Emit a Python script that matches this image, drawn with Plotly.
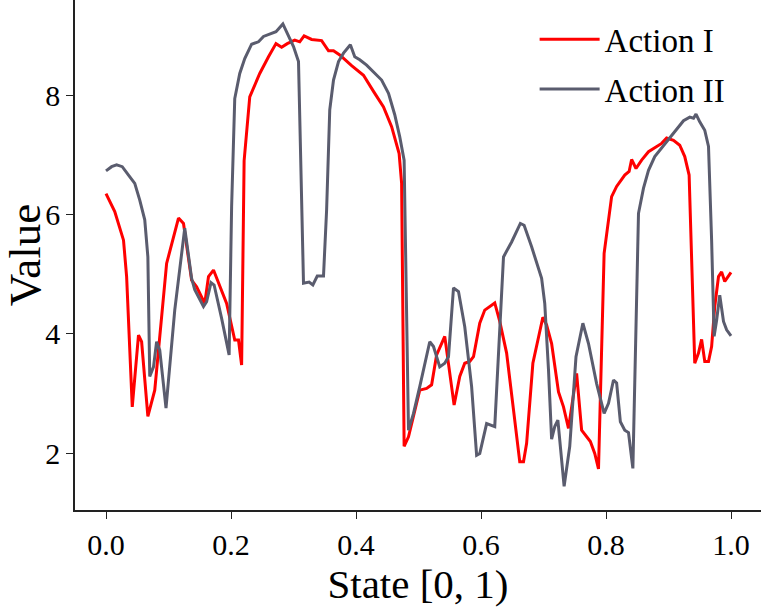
import plotly.graph_objects as go

x_action1 = [0.000, 0.014, 0.028, 0.033, 0.042, 0.052, 0.057, 0.067, 0.078, 0.097,
             0.116, 0.124, 0.137, 0.145, 0.158, 0.164, 0.172, 0.193, 0.206, 0.212,
             0.217, 0.221, 0.230, 0.246, 0.260, 0.272, 0.281, 0.290, 0.302, 0.310,
             0.317, 0.329, 0.345, 0.356, 0.364, 0.374, 0.393, 0.412, 0.428, 0.444,
             0.457, 0.469, 0.473, 0.477, 0.484, 0.502, 0.513, 0.521, 0.529, 0.542,
             0.557, 0.566, 0.574, 0.582, 0.588, 0.598, 0.606, 0.622, 0.630, 0.641,
             0.652, 0.662, 0.668, 0.673, 0.683, 0.692, 0.699, 0.705, 0.713, 0.724,
             0.732, 0.740, 0.753, 0.761, 0.775, 0.782, 0.788, 0.797, 0.809, 0.817,
             0.830, 0.837, 0.841, 0.848, 0.857, 0.868, 0.878, 0.889, 0.897, 0.908,
             0.918, 0.926, 0.933, 0.942, 0.948, 0.953, 0.958, 0.964, 0.969, 0.974,
             0.980, 0.985, 0.990, 1.000]
y_action1 = [6.35, 6.05, 5.57, 4.96, 2.78, 3.98, 3.87, 2.62, 3.06, 5.18,
             5.94, 5.85, 4.90, 4.79, 4.51, 4.96, 5.07, 4.51, 3.90, 3.90,
             3.48, 6.90, 7.97, 8.36, 8.64, 8.86, 8.80, 8.86, 8.92, 8.89,
             8.99, 8.93, 8.91, 8.74, 8.74, 8.67, 8.49, 8.33, 8.06, 7.80,
             7.47, 7.02, 6.52, 2.12, 2.28, 3.06, 3.09, 3.15, 3.65, 3.96,
             2.81, 3.29, 3.51, 3.54, 3.62, 4.18, 4.40, 4.52, 4.21, 3.68,
             2.73, 1.86, 1.86, 2.17, 3.51, 3.96, 4.28, 4.15, 3.84, 3.03,
             2.78, 2.42, 3.34, 2.39, 2.20, 2.00, 1.74, 5.35, 6.30, 6.47,
             6.66, 6.72, 6.92, 6.77, 6.91, 7.05, 7.11, 7.19, 7.28, 7.24,
             7.16, 6.97, 6.66, 3.51, 3.68, 3.91, 3.54, 3.54, 3.79, 4.46,
             4.96, 5.04, 4.88, 5.03]

x_action2 = [0.000, 0.009, 0.017, 0.026, 0.036, 0.046, 0.054, 0.062, 0.067, 0.070,
             0.076, 0.081, 0.086, 0.096, 0.110, 0.126, 0.137, 0.142, 0.156, 0.161,
             0.168, 0.173, 0.185, 0.197, 0.201, 0.206, 0.214, 0.222, 0.233, 0.244,
             0.252, 0.262, 0.272, 0.283, 0.289, 0.300, 0.308, 0.310, 0.313, 0.316,
             0.325, 0.331, 0.338, 0.348, 0.353, 0.358, 0.364, 0.372, 0.380, 0.391,
             0.398, 0.406, 0.417, 0.428, 0.441, 0.452, 0.462, 0.470, 0.477, 0.484,
             0.492, 0.502, 0.510, 0.518, 0.524, 0.534, 0.542, 0.548, 0.556, 0.564,
             0.574, 0.585, 0.593, 0.598, 0.609, 0.622, 0.636, 0.649, 0.663, 0.669,
             0.681, 0.697, 0.702, 0.708, 0.713, 0.718, 0.723, 0.733, 0.742, 0.752,
             0.763, 0.772, 0.785, 0.797, 0.804, 0.812, 0.817, 0.823, 0.830, 0.836,
             0.843, 0.852, 0.860, 0.868, 0.878, 0.889, 0.902, 0.913, 0.924, 0.934,
             0.940, 0.944, 0.950, 0.958, 0.964, 0.969, 0.973, 0.977, 0.982, 0.988,
             0.993, 1.000]
y_action2 = [6.73, 6.80, 6.83, 6.80, 6.66, 6.52, 6.24, 5.91, 5.29, 3.29,
             3.45, 3.87, 3.73, 2.76, 4.40, 5.77, 4.93, 4.74, 4.46, 4.54,
             4.86, 4.82, 4.26, 3.65, 6.13, 7.94, 8.36, 8.61, 8.85, 8.89,
             8.98, 9.02, 9.06, 9.19, 9.06, 8.81, 8.56, 7.75, 6.13, 4.85,
             4.87, 4.82, 4.97, 4.97, 6.08, 7.75, 8.25, 8.56, 8.70, 8.84,
             8.64, 8.59, 8.50, 8.39, 8.25, 8.03, 7.67, 7.30, 6.91, 2.39,
             2.67, 3.12, 3.51, 3.87, 3.79, 3.45, 3.51, 3.62, 4.77, 4.71,
             4.12, 3.12, 1.97, 2.00, 2.50, 2.45, 5.29, 5.54, 5.85, 5.82,
             5.46, 4.93, 4.51, 3.40, 2.24, 2.45, 2.56, 1.45, 2.12, 3.62,
             4.18, 3.84, 3.17, 2.67, 2.84, 3.23, 3.18, 2.53, 2.39, 2.35,
             1.75, 6.02, 6.44, 6.74, 6.97, 7.11, 7.28, 7.41, 7.57, 7.63,
             7.61, 7.68, 7.55, 7.41, 7.14, 5.57, 3.96, 4.23, 4.65, 4.21,
             4.07, 3.97]

x_ticks = [0.0, 0.2, 0.4, 0.6, 0.8, 1.0]
x_ticklabels = ["0.0", "0.2", "0.4", "0.6", "0.8", "1.0"]
y_ticks = [2, 4, 6, 8]
y_ticklabels = ["2", "4", "6", "8"]

FONT = "Liberation Serif, Times New Roman, serif"

fig = go.Figure()
fig.add_trace(go.Scatter(x=x_action1, y=y_action1, mode="lines", name="Action I",
                         legendgroup="a1", line=dict(color="#ff0000", width=3)))
fig.add_trace(go.Scatter(x=x_action2, y=y_action2, mode="lines", name="Action II",
                         legendgroup="a2", line=dict(color="#5a5c6e", width=3)))

axis_common = dict(showline=True, linecolor="#222222", linewidth=1.6, mirror=False,
                   ticks="outside", ticklen=7, tickwidth=1.4, tickcolor="#222222",
                   showgrid=False, zeroline=False, automargin=False,
                   tickfont=dict(family=FONT, size=30, color="black"))

fig.update_layout(
    width=761, height=609,
    margin=dict(l=75, r=0, t=0, b=99, autoexpand=False),
    paper_bgcolor="white", plot_bgcolor="white",
    font=dict(family=FONT, color="black"),
    xaxis=dict(range=[-0.0496, 1.048], tickvals=x_ticks, ticktext=x_ticklabels,
               title=dict(text="State [0, 1)", font=dict(family=FONT, size=41), standoff=6),
               **axis_common),
    yaxis=dict(range=[1.054, 9.59], tickvals=y_ticks, ticktext=y_ticklabels,
               title=dict(text="Value", font=dict(family=FONT, size=45), standoff=6),
               **axis_common),
    legend=dict(x=0.67, y=0.978, xanchor="left", yanchor="top",
                bgcolor="rgba(0,0,0,0)", borderwidth=0, itemwidth=60,
                traceorder="grouped", tracegroupgap=4,
                font=dict(family=FONT, size=33, color="black")),
    showlegend=True,
)

fig.write_html("out.html", config={"displayModeBar": False},
               post_script="document.body.style.margin='0px';")
